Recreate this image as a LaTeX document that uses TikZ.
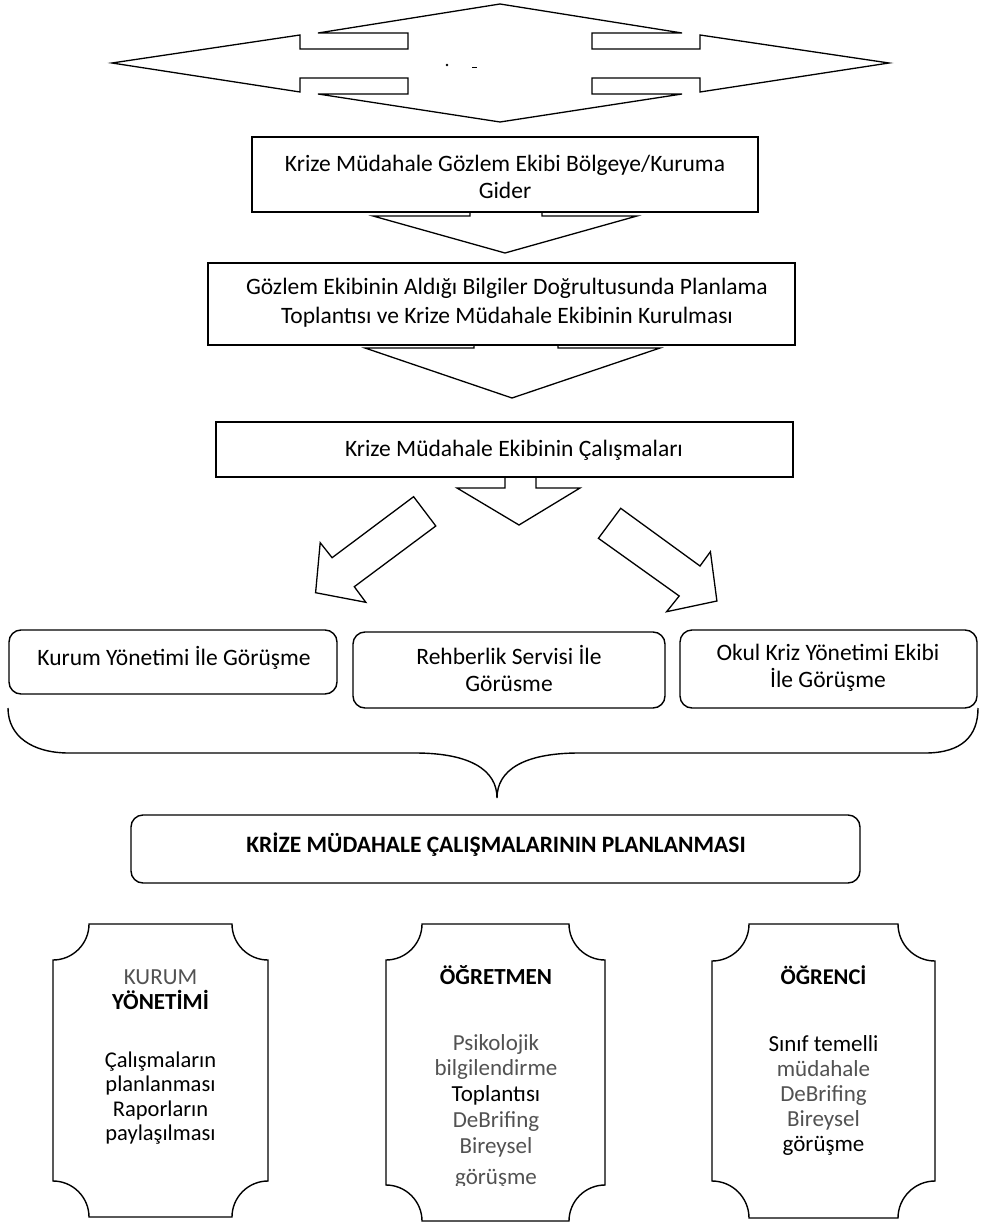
\documentclass[tikz,border=0pt]{standalone}
\usepackage{fontspec}
\setmainfont{Carlito}
\newcommand\drawplaque[5]{%
  \draw[plaque] (#1,{#2+#5}) .. controls ({#1+0.55*#5},{#2+#5}) and ({#1+#5},{#2+0.55*#5}) .. ({#1+#5},#2)
    -- ({#3-#5},#2) .. controls ({#3-#5},{#2+0.55*#5}) and ({#3-0.55*#5},{#2+#5}) .. (#3,{#2+#5})
    -- (#3,{#4-#5}) .. controls ({#3-0.55*#5},{#4-#5}) and ({#3-#5},{#4-0.55*#5}) .. ({#3-#5},#4)
    -- ({#1+#5},#4) .. controls ({#1+#5},{#4-0.55*#5}) and ({#1+0.55*#5},{#4-#5}) .. (#1,{#4-#5})
    -- cycle;}
\begin{document}
\begin{tikzpicture}[x=1pt,y=-1pt,
  arrowshape/.style={draw=black,line width=1.3pt,fill=white,line join=miter},
  sqbox/.style={draw=black,line width=1.4pt,fill=white,inner sep=0pt},
  rndbox/.style={sqbox,rounded corners=12pt},
  plaque/.style={draw=black,line width=1.4pt,fill=white},
  txt/.style={inner sep=0pt,align=center,text=black,font=\fontsize{23.5}{27}\selectfont},
  btxt/.style={txt,font=\fontsize{23.5}{27}\selectfont\bfseries},
  ptxt/.style={txt,font=\fontsize{23}{25}\selectfont},
  gray/.style={text=black!68},
]
\useasboundingbox (0,0) rectangle (981,1222);

% top quad arrow
\draw[arrowshape] (112,63) -- (300,35) -- (300,49) -- (408,49) -- (408,33) -- (318,33) -- (500,4)
  -- (682,33) -- (592,33) -- (592,49) -- (700,49) -- (700,35) -- (889,63) -- (700,92) -- (700,78)
  -- (592,78) -- (592,94) -- (682,94) -- (500,122) -- (318,94) -- (408,94) -- (408,78) -- (300,78)
  -- (300,92) -- cycle;
\fill (447,65) circle (1.4pt);
\draw[line width=0.8pt] (472,67) -- (477,67);

% arrow 1
\draw[arrowshape] (470,200) -- (470,216) -- (373,216) -- (505,253) -- (637,216) -- (542,216) -- (542,200) -- cycle;
\node[sqbox,minimum width=506,minimum height=75] (b1) at (505,174.5) {};
\node[txt] (t1) at (505,177) {Krize Müdahale Gözlem Ekibi Bölgeye/Kuruma\\Gider};

% arrow 2
\draw[arrowshape] (474,330) -- (474,348) -- (365,348) -- (512,398) -- (660,348) -- (558,348) -- (558,330) -- cycle;
\node[sqbox,minimum width=587,minimum height=82] (b2) at (501.5,304) {};
\node[txt,font=\fontsize{23.5}{29}\selectfont] (t2) at (507,303) {Gözlem Ekibinin Aldığı Bilgiler Doğrultusunda Planlama\\Toplantısı ve Krize Müdahale Ekibinin Kurulması};

% arrow 3 and diagonal arrows
\draw[arrowshape] (505,465) -- (505,488) -- (457,488) -- (519,525) -- (580,488) -- (536,488) -- (536,465) -- cycle;
\node[sqbox,minimum width=577,minimum height=55] (b3) at (504.5,449.5) {};
\node[txt] (t3) at (514,450) {Krize Müdahale Ekibinin Çalışmaları};

\draw[arrowshape] (413.6,496.7) -- (435.8,526) -- (354.3,586.7) -- (365.8,602.3) -- (315.6,592.7)
  -- (320.2,542.7) -- (332.1,557.7) -- cycle;
\draw[arrowshape] (620.7,508.3) -- (598.4,538.3) -- (679.2,596) -- (666.6,611.7) -- (716.9,601)
  -- (710.4,551.7) -- (700,566) -- cycle;

% three interview boxes
\node[rndbox,minimum width=328,minimum height=64] (ba) at (173,662) {};
\node[txt] (ta) at (174,658) {Kurum Yönetimi İle Görüşme};
\node[rndbox,minimum width=312,minimum height=76] (bb) at (509,670) {};
\node[txt] (tb) at (509,668) {Rehberlik Servisi İle\\Görüsme};
\node[rndbox,minimum width=297,minimum height=78] (bc) at (828.5,669) {};
\node[txt] (tc) at (828,668) {Okul Kriz Yönetimi Ekibi\\İle Görüşme};

% brace
\draw[line width=1.4pt] (8,708) .. controls (8,736) and (32,753) .. (69,753) -- (415,753)
  .. controls (470,753) and (497,770) .. (497,798)
  .. controls (497,770) and (524,753) .. (579,753) -- (925,753)
  .. controls (962,753) and (978,736) .. (978,708);

% planning box
\node[rndbox,minimum width=729,minimum height=68] (bp) at (495.5,849) {};
\node[btxt] (tp) at (496,845) {KRİZE MÜDAHALE ÇALIŞMALARININ PLANLANMASI};

% plaques
\drawplaque{53}{924}{268}{1217}{36}
\drawplaque{386}{924}{605}{1221}{36}
\drawplaque{712}{924}{935}{1218}{37}

\node[ptxt] (h1) at (160.5,990) {{\color{black!68}KURUM}\\\textbf{YÖNETİMİ}};
\node[ptxt,font=\fontsize{22.5}{24.4}\selectfont] (c1) at (160.5,1098) {Çalışmaların\\planlanması\\Raporların\\paylaşılması};

\node[btxt,font=\fontsize{23}{27}\selectfont\bfseries] (h2) at (496,975) {ÖĞRETMEN};
\node[ptxt,font=\fontsize{23}{25.8}\selectfont] (c2) at (496,1095.5) {{\color{black!68}Psikolojik}\\{\color{black!68}bilgilendirme}\\Toplantısı\\{\color{black!68}DeBrifing}\\{\color{black!68}Bireysel}};
\begin{scope}
\clip (386,1160) rectangle (605,1185);
\node[ptxt,gray] (c2b) at (496,1179) {görüşme};
\end{scope}

\node[btxt,font=\fontsize{22.5}{27}\selectfont\bfseries] (h3) at (823.5,975) {ÖĞRENCİ};
\node[ptxt] (c3) at (823.5,1095) {Sınıf temelli\\{\color{black!68}müdahale}\\{\color{black!68}DeBrifing}\\{\color{black!68}Bireysel}\\görüşme};
\end{tikzpicture}
\end{document}
